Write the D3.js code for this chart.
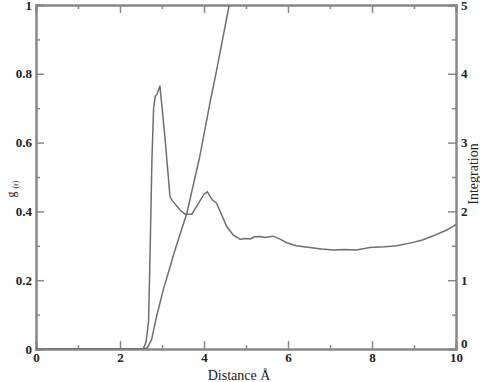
<!DOCTYPE html>
<html>
<head>
<meta charset="utf-8">
<script src="https://cdn.jsdelivr.net/npm/d3@7"></script>
<style>
  body { margin: 0; background: #fff; }
  svg { display: block; }
</style>
</head>
<body>
<div id="chart"></div>
<script>
// g(r) radial distribution
const gR = [0, 2.4, 2.55, 2.62, 2.68, 2.72, 2.76, 2.8, 2.84, 2.88, 2.95, 3.07, 3.19, 3.24, 3.43, 3.55, 3.71,
  3.85, 4.0, 4.08, 4.2, 4.3, 4.54, 4.7, 4.86, 5.0, 5.1, 5.2, 5.33, 5.45, 5.64, 5.8, 5.97, 6.2, 6.52, 6.8,
  7.08, 7.35, 7.63, 7.95, 8.3, 8.59, 8.98, 9.2, 9.46, 9.78, 9.94, 10];
const gVal = [0, 0, 0, 0.02, 0.08, 0.3, 0.55, 0.7, 0.735, 0.74, 0.765, 0.616, 0.443, 0.432, 0.404, 0.392, 0.392,
  0.42, 0.45, 0.457, 0.433, 0.424, 0.356, 0.331, 0.319, 0.321, 0.32, 0.326, 0.327, 0.324, 0.328, 0.32, 0.309, 0.3, 0.295, 0.291,
  0.288, 0.289, 0.288, 0.295, 0.297, 0.3, 0.31, 0.317, 0.329, 0.346, 0.357, 0.362];

// running integration (right axis)
const intR = [0, 2.55, 2.65, 2.75, 2.87, 3.03, 3.31, 3.59, 3.9, 4.14, 4.3, 4.6, 4.75];
const intVal = [0, 0, 0.02, 0.13, 0.47, 0.86, 1.44, 1.97, 2.8, 3.57, 4.05, 5.0, 5.45];

const xTicks = [0, 2, 4, 6, 8, 10];
const yTicks = [0, 0.2, 0.4, 0.6, 0.8, 1];
const y2Ticks = [0, 1, 2, 3, 4, 5];

const width = 480, height = 382;
const margin = { top: 5, right: 24, bottom: 33, left: 36 };
const iw = width - margin.left - margin.right;
const ih = height - margin.top - margin.bottom;

const axisColor = '#888';
const lineColor = '#6e6e6e';
const font = '"Liberation Serif", "Times New Roman", serif';

const svg = d3.select('#chart').append('svg')
  .attr('width', width)
  .attr('height', height);

const g = svg.append('g').attr('transform', `translate(${margin.left},${margin.top})`);

const x = d3.scaleLinear().domain([0, 10]).range([0, iw]);
const y = d3.scaleLinear().domain([0, 1]).range([ih, 0]);
const y2 = d3.scaleLinear().domain([0, 5]).range([ih, 0]);

svg.append('defs').append('clipPath').attr('id', 'clip')
  .append('rect').attr('width', iw).attr('height', ih);

// axes with inward ticks: majors labelled, minors between
function styleAxis(sel) {
  sel.attr('font-family', font);
  sel.select('.domain').attr('stroke', axisColor).attr('stroke-width', 2);
  sel.selectAll('.tick line').attr('stroke', axisColor).attr('stroke-width', 1.5);
  sel.selectAll('.tick text')
    .style('font-family', font)
    .style('font-size', '13px')
    .style('font-weight', 'bold')
    .attr('fill', '#222');
}

const minorX = d3.range(1, 10, 2);
const minorY = d3.range(0.1, 1, 0.2);
const minorY2 = d3.range(0.5, 5, 1);

// bottom
g.append('g').attr('transform', `translate(0,${ih})`)
  .call(d3.axisBottom(x).tickValues(xTicks).tickSize(-8).tickPadding(4).tickFormat(d3.format('d')))
  .call(styleAxis);
g.append('g').attr('transform', `translate(0,${ih})`)
  .call(d3.axisBottom(x).tickValues(minorX).tickSize(-4).tickFormat(''))
  .call(styleAxis);
// top
g.append('g')
  .call(d3.axisTop(x).tickValues(xTicks).tickSize(-8).tickFormat(''))
  .call(styleAxis);
g.append('g')
  .call(d3.axisTop(x).tickValues(minorX).tickSize(-4).tickFormat(''))
  .call(styleAxis);
// left
g.append('g')
  .call(d3.axisLeft(y).tickValues(yTicks).tickSize(-8).tickPadding(4).tickFormat(d => d === 0 || d === 1 ? d3.format('d')(d) : d3.format('.1f')(d)))
  .call(styleAxis);
g.append('g')
  .call(d3.axisLeft(y).tickValues(minorY).tickSize(-4).tickFormat(''))
  .call(styleAxis);
// right
g.append('g').attr('transform', `translate(${iw},0)`)
  .call(d3.axisRight(y2).tickValues(y2Ticks).tickSize(-8).tickPadding(5).tickFormat(d3.format('d')))
  .call(styleAxis)
  .call(a => a.selectAll('.tick text').filter(d => d === 0).attr('dy', '-0.15em'));
g.append('g').attr('transform', `translate(${iw},0)`)
  .call(d3.axisRight(y2).tickValues(minorY2).tickSize(-4).tickFormat(''))
  .call(styleAxis);

// curves
const gLine = d3.line().x(d => x(d[0])).y(d => y(d[1]));
const iLine = d3.line().x(d => x(d[0])).y(d => y2(d[1]));

g.append('path')
  .datum(d3.zip(gR, gVal))
  .attr('clip-path', 'url(#clip)')
  .attr('fill', 'none')
  .attr('stroke', lineColor)
  .attr('stroke-width', 1.5)
  .attr('d', gLine);

g.append('path')
  .datum(d3.zip(intR, intVal))
  .attr('clip-path', 'url(#clip)')
  .attr('fill', 'none')
  .attr('stroke', lineColor)
  .attr('stroke-width', 1.5)
  .attr('d', iLine);

// axis titles
svg.append('text')
  .attr('x', margin.left + iw / 2 - 7)
  .attr('y', height - 2)
  .attr('text-anchor', 'middle')
  .style('font-family', font)
  .style('font-size', '14px')
  .attr('fill', '#222')
  .text('Distance Å');

const gTitle = svg.append('text')
  .attr('transform', `translate(15,${margin.top + ih / 2 + 12}) rotate(-90)`)
  .attr('text-anchor', 'middle')
  .style('font-family', font)
  .style('font-size', '12px')
  .attr('fill', '#222');
gTitle.append('tspan').text('g ');
gTitle.append('tspan').attr('font-size', '8px').attr('dy', 3).text('(r)');

svg.append('text')
  .attr('transform', `translate(478,174) rotate(-90)`)
  .attr('text-anchor', 'middle')
  .style('font-family', font)
  .style('font-size', '14px')
  .attr('fill', '#222')
  .text('Integration');
</script>
</body>
</html>
